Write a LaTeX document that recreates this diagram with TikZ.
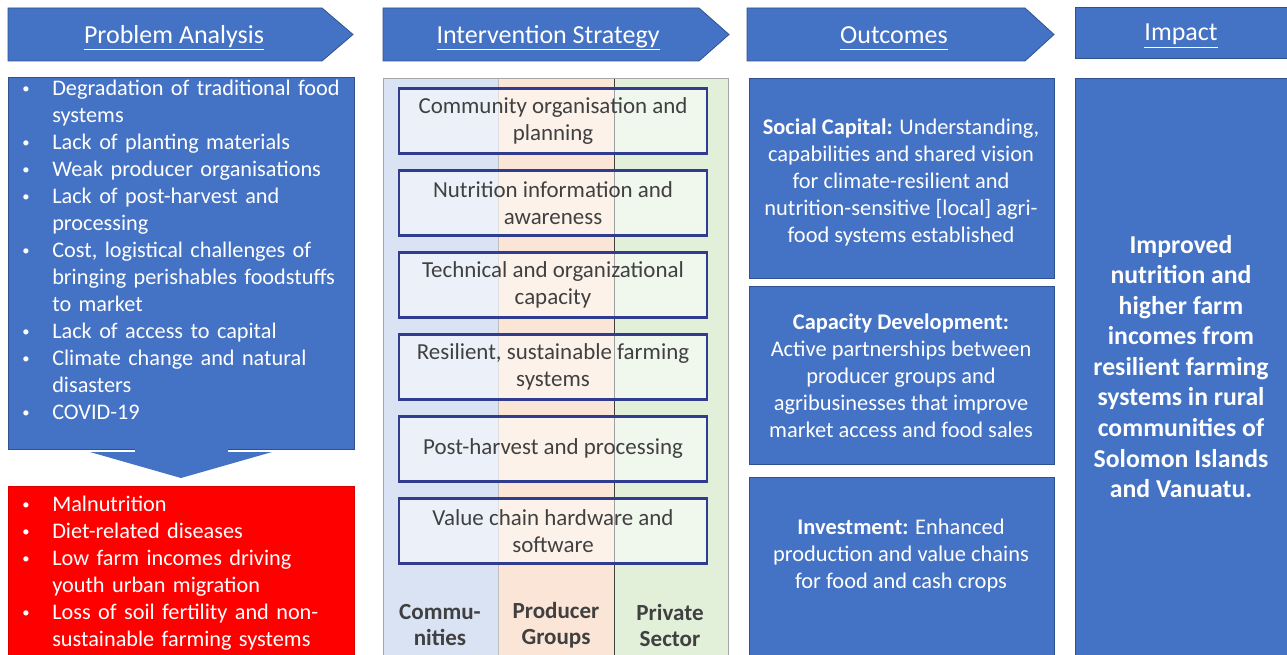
\documentclass[tikz,border=0pt]{standalone}
\usepackage{fontspec}
\setmainfont{Carlito}
\usepackage{tikz}
\usetikzlibrary{positioning}
\usetikzlibrary{calc}
\definecolor{pptblue}{HTML}{4472C4}
\definecolor{pptline}{HTML}{2F528F}
\definecolor{stratline}{HTML}{2F3C8F}
\definecolor{bandblue}{HTML}{DAE3F3}
\definecolor{bandorange}{HTML}{FBE5D6}
\definecolor{bandgreen}{HTML}{E2F0D9}
\definecolor{txtgray}{HTML}{404040}
\newcommand{\smallbullet}{\raisebox{0.15ex}{\fontsize{11}{11}\selectfont\textbullet}}
\newenvironment{blist}{\begin{list}{\smallbullet}{\setlength{\leftmargin}{22.5pt}\setlength{\labelwidth}{22.5pt}\setlength{\labelsep}{0pt}\setlength{\itemsep}{0pt}\setlength{\parsep}{0pt}\setlength{\topsep}{0pt}\setlength{\partopsep}{0pt}\renewcommand{\makelabel}[1]{##1\hfil}}}{\end{list}}
\newcommand{\hdul}[1]{\underline{#1\vphantom{y}}}
\tikzstyle{chevron} = [fill=pptblue, draw=pptline, line width=0.6pt]
\tikzstyle{headlabel} = [text=white, inner sep=0pt, font=\fontsize{19.5}{23}\selectfont]
\tikzstyle{bluebox} = [rectangle, anchor=north west, fill=pptblue, draw=pptline, line width=0.6pt, inner sep=0pt, outer sep=0pt]
\tikzstyle{bullets} = [anchor=north west, text=white, text width=250pt, align=left, inner sep=0pt, font=\fontsize{16.7}{20.25}\selectfont]
\tikzstyle{outtext} = [text=white, align=center, inner sep=0pt, font=\fontsize{16.8}{20.25}\selectfont]
\tikzstyle{strat} = [rectangle, draw=stratline, line width=2.2pt, fill=white, fill opacity=0.5, text opacity=1, text=txtgray, align=center, minimum width=231pt, minimum height=48.75pt, inner sep=0pt, outer sep=0pt, font=\fontsize{17.2}{20.25}\selectfont]
\tikzstyle{colname} = [text=txtgray, align=center, inner sep=0pt, font=\bfseries\fontsize{17.3}{19.5}\selectfont]

\begin{document}
\begin{tikzpicture}[x=0.75pt, y=-0.75pt, node distance=12.75pt]
            \useasboundingbox (0,0) rectangle (1287,655);
            \fill[white] (0,0) rectangle (1287,655);

            \draw[chevron] (8,8) -- (322,8) -- (353,34.5) -- (322,61) -- (8,61) -- cycle;
            \draw[chevron] (383,8) -- (699,8) -- (729,34.5) -- (699,61) -- (383,61) -- cycle;
            \draw[chevron] (747,8) -- (1025,8) -- (1054,34.5) -- (1025,61) -- (747,61) -- cycle;
            \draw[chevron] (1075,7) rectangle (1287,58);
            \node (hProb) [headlabel] at (174,38) {\hdul{Problem Analysis}};
            \node (hStrat) [headlabel] at (548,38) {\hdul{Intervention Strategy}};
            \node (hOut) [headlabel] at (894,38) {\hdul{Outcomes}};
            \node (hImp) [headlabel] at (1181,36) {\hdul{Impact}};

            \node (probbox) [bluebox, minimum width=259.5pt, minimum height=279pt] at (8,77) {};
            \node (probtext) [bullets] at (22,68) {\begin{blist}
                \item Degradation of traditional food\newline systems
                \item Lack of planting materials
                \item Weak producer organisations
                \item Lack of post-harvest and\newline processing
                \item Cost, logistical challenges of\newline bringing perishables foodstuffs\newline to market
                \item Lack of access to capital
                \item Climate change and natural\newline disasters
                \item COVID-19
            \end{blist}};
            \node (redbox) [bluebox, fill=red, draw=red!85!black, minimum width=259.5pt, minimum height=135pt] at (8,486) {};
            \node (redtext) [bullets] at (22,484) {\begin{blist}
                \item Malnutrition
                \item Diet-related diseases
                \item Low farm incomes driving\newline youth urban migration
                \item Loss of soil fertility and non-\newline sustainable farming systems
            \end{blist}};
            \fill[pptblue] ($(probbox.south)+(-46,-1)$) -- ($(probbox.south)+(-46,3)$) -- ($(probbox.south)+(-91,3)$)
                -- ($(redbox.north)+(0,-8)$) -- ($(probbox.south)+(91,3)$) -- ($(probbox.south)+(47,3)$)
                -- ($(probbox.south)+(47,-1)$) -- cycle;

            \fill[bandblue] (383,78) rectangle (498,660);
            \fill[bandorange] (498,78) rectangle (614,660);
            \fill[bandgreen] (614,78) rectangle (728,660);
            \draw[black!25, line width=0.6pt] (498,78) -- (498,660);
            \draw[txtgray, line width=0.6pt] (614,78) -- (614,660);
            \draw[black!35, line width=0.6pt] (383,660) -- (383,78) -- (728,78) -- (728,660);

            \node (sPlan) [strat] at (553,121) {Community organisation and\\planning};
            \node (sNutr) [strat, below=of sPlan] {Nutrition information and\\awareness};
            \node (sCap) [strat, below=of sNutr] {Technical and organizational\\capacity};
            \node (sFarm) [strat, below=of sCap] {Resilient, sustainable farming\\systems};
            \node (sPost) [strat, below=of sFarm] {Post-harvest and processing};
            \node (sValue) [strat, below=of sPost] {Value chain hardware and\\software};

            \node (cComm) [colname] at (440,625) {Commu-\\nities};
            \node (cProd) [colname] at (556,625) {Producer\\Groups};
            \node (cPriv) [colname] at (670,625) {Private\\Sector};

            \node (oSocial) [bluebox, minimum width=228.75pt, minimum height=150pt] at (749,78) {};
            \node (oCapDev) [bluebox, minimum width=228.75pt, minimum height=133.5pt] at (749,286) {};
            \node (oInvest) [bluebox, minimum width=228.75pt, minimum height=142.5pt] at (749,477) {};
            \node (tSocial) [outtext] at (901,182) {\textbf{Social Capital:} Understanding,\\capabilities and shared vision\\for climate-resilient and\\nutrition-sensitive [local] agri-\\food systems established};
            \node (tCapDev) [outtext] at (901,376) {\textbf{Capacity Development:}\\Active partnerships between\\producer groups and\\agribusinesses that improve\\market access and food sales};
            \node (tInvest) [outtext] at (901,556) {\textbf{Investment:} Enhanced\\production and value chains\\for food and cash crops};

            \node (impbox) [bluebox, minimum width=159pt, minimum height=432.75pt] at (1075,78) {};
            \node (imptext) [text=white, align=center, inner sep=0pt, font=\bfseries\fontsize{19.3}{22.9}\selectfont] at (impbox.center) {Improved\\nutrition and\\higher farm\\incomes from\\resilient farming\\systems in rural\\communities of\\Solomon Islands\\and Vanuatu.};
        \end{tikzpicture}
\end{document}
